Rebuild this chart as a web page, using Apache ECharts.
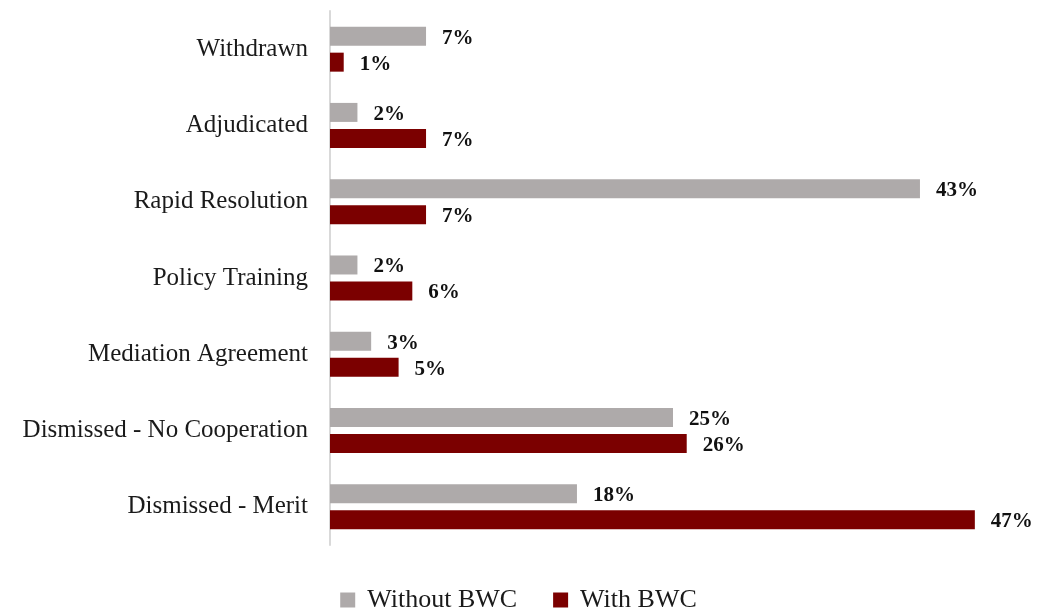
<!DOCTYPE html>
<html>
<head>
<meta charset="utf-8">
<script src="https://cdn.jsdelivr.net/npm/echarts@6/dist/echarts.min.js"></script>
<style>
  html, body { margin: 0; padding: 0; background: #fff; }
  #chart { width: 1037px; height: 609px; }
</style>
</head>
<body>
<div id="chart"></div>
<script>
var categories = ['Withdrawn', 'Adjudicated', 'Rapid Resolution', 'Policy Training',
  'Mediation Agreement', 'Dismissed - No Cooperation', 'Dismissed - Merit'];
var withoutBwc = [7, 2, 43, 2, 3, 25, 18];
var withBwc = [1, 7, 7, 6, 5, 26, 47];

var serif = '"Liberation Serif", "DejaVu Serif", serif';

var chartDom = document.getElementById('chart');
var myChart = echarts.init(chartDom);
var option;

var label = {
  show: true,
  position: 'right',
  distance: 16,
  offset: [0, 2],
  formatter: '{c}%',
  fontFamily: serif,
  fontWeight: 'bold',
  fontSize: 21,
  color: '#111'
};

option = {
  animation: false,
  grid: {
    left: 330,
    right: 21,
    top: 11,
    bottom: 64
  },
  legend: {
    top: 587,
    left: 'center',
    padding: 0,
    itemWidth: 15,
    itemHeight: 15,
    itemGap: 36,
    icon: 'rect',
    textStyle: { fontFamily: serif, fontSize: 26, color: '#1a1a1a', padding: [0, 0, 0, 7] },
    data: ['Without BWC', 'With BWC']
  },
  xAxis: {
    type: 'value',
    min: 0,
    max: 50,
    show: false
  },
  yAxis: {
    type: 'category',
    inverse: true,
    data: categories,
    axisLine: { show: true, lineStyle: { color: '#d9d9d9', width: 2 } },
    axisTick: { show: false },
    axisLabel: {
      margin: 22,
      fontFamily: serif,
      fontSize: 25,
      color: '#1a1a1a'
    }
  },
  series: [
    {
      name: 'Without BWC',
      type: 'bar',
      data: withoutBwc,
      barWidth: 19,
      barGap: '37%',
      itemStyle: { color: '#aeaaaa' },
      label: label
    },
    {
      name: 'With BWC',
      type: 'bar',
      data: withBwc,
      barWidth: 19,
      barGap: '37%',
      itemStyle: { color: '#7b0000' },
      label: label
    }
  ]
};
option && myChart.setOption(option);
</script>
</body>
</html>
